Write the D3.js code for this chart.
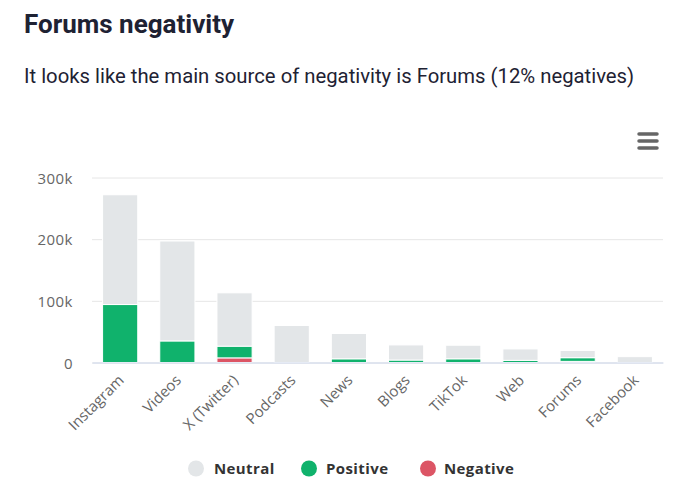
<!DOCTYPE html>
<html>
<head>
<meta charset="utf-8">
<script src="https://cdn.jsdelivr.net/npm/d3@7"></script>
<style>
  html, body { margin: 0; padding: 0; background: #fff; }
  svg { display: block; }
</style>
</head>
<body>
<svg id="chart" width="700" height="500"></svg>
<script>
var categories = ["Instagram", "Videos", "X (Twitter)", "Podcasts", "News", "Blogs", "TikTok", "Web", "Forums", "Facebook"];
var negative = [0, 0, 7500, 0, 0, 0, 0, 0, 1800, 0];
var positive = [94000, 35000, 19000, 0, 6000, 4000, 6000, 3500, 6000, 0];
var neutral = [178000, 162000, 86500, 60000, 41000, 24500, 22000, 18500, 11700, 9500];
var yTicks = [0, 100000, 200000, 300000];
var seriesNames = ["Neutral", "Positive", "Negative"];
var seriesColors = ["#e3e6e8", "#10b26c", "#dc5565"];

var svg = d3.select("#chart");
var margin = { left: 92, right: 663, top: 177.5, bottom: 362.5 };

svg.append("text").attr("x", 24).attr("y", 33)
    .attr("font-family", "Roboto").attr("font-weight", 700).attr("font-size", 26)
    .attr("fill", "#1e2233").text("Forums negativity");
svg.append("text").attr("x", 24).attr("y", 83)
    .attr("font-family", "Roboto").attr("font-size", 20.3)
    .attr("fill", "#1e2233").text("It looks like the main source of negativity is Forums (12% negatives)");

var x = d3.scaleBand().domain(categories).range([margin.left, margin.right]).paddingInner(0.385).paddingOuter(0.185);
var y = d3.scaleLinear().domain([0, 300000]).range([margin.bottom, margin.top]);

// gridlines and y labels
var yAxis = svg.append("g").attr("transform", "translate(" + margin.left + ",0)")
    .call(d3.axisLeft(y).tickValues(yTicks).tickSize(-(margin.right - margin.left)).tickPadding(20)
      .tickFormat(function(d) { return d === 0 ? "0" : d / 1000 + "k"; }));
yAxis.select(".domain").remove();
yAxis.selectAll("line").attr("stroke", "#e6e6e6");
yAxis.selectAll("text").attr("font-family", "Open Sans").attr("font-size", 15).attr("fill", "#666")
    .attr("letter-spacing", 0.5)
    .attr("transform", "translate(1,1)");

// stacks, negative sits on the axis
var rows = categories.map(function(c, i) {
  return { category: c, Negative: negative[i], Positive: positive[i], Neutral: neutral[i] };
});
var stack = d3.stack().keys(["Negative", "Positive", "Neutral"])(rows);
var color = d3.scaleOrdinal().domain(seriesNames).range(seriesColors);

svg.append("g").selectAll("g")
    .data(stack)
  .enter().append("g")
    .attr("fill", function(d) { return color(d.key); })
  .selectAll("rect")
    .data(function(d) { return d; })
  .enter().append("rect")
    .attr("x", function(d) { return x(d.data.category); })
    .attr("y", function(d) { return y(d[1]); })
    .attr("width", x.bandwidth())
    .attr("height", function(d) { return y(d[0]) - y(d[1]); })
    .attr("stroke", "#fff")
    .attr("stroke-width", 1);

// x axis
var xAxis = svg.append("g").attr("transform", "translate(0," + margin.bottom + ")")
    .call(d3.axisBottom(x).tickSize(0));
xAxis.select(".domain").attr("stroke", "#ccd6eb");
xAxis.selectAll("text")
    .attr("font-family", "Open Sans").attr("font-size", 15).attr("fill", "#666")
    .attr("text-anchor", "end")
    .attr("transform", "translate(1,15) rotate(-45)")
    .attr("dy", "0.35em").attr("y", 0);

// legend
var legendX = [196, 309, 428];
var legendText = [214, 326, 444];
var legend = svg.append("g").selectAll("g").data(seriesNames).enter().append("g");
legend.append("circle")
    .attr("cx", function(d, i) { return legendX[i]; })
    .attr("cy", 468.5).attr("r", 8)
    .attr("fill", function(d) { return color(d); });
legend.append("text")
    .attr("x", function(d, i) { return legendText[i]; })
    .attr("y", 474)
    .attr("font-family", "Open Sans").attr("font-weight", 700).attr("font-size", 15)
    .attr("letter-spacing", 0.4).attr("fill", "#333")
    .text(function(d) { return d; });

// menu icon
svg.append("g").selectAll("line").data([134, 141, 148]).enter().append("line")
    .attr("x1", 639).attr("x2", 657)
    .attr("y1", function(d) { return d; }).attr("y2", function(d) { return d; })
    .attr("stroke", "#666").attr("stroke-width", 3.5).attr("stroke-linecap", "round");
</script>
</body>
</html>
